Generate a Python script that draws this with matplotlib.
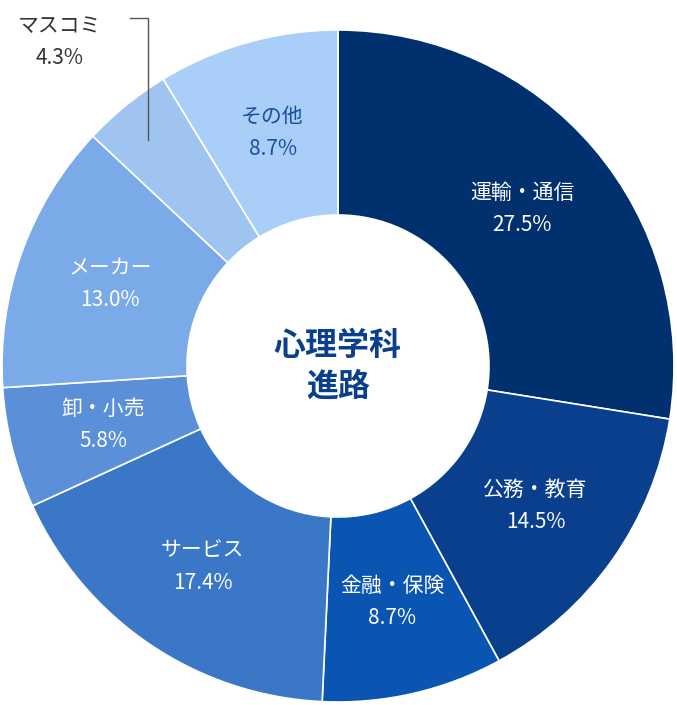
import matplotlib
matplotlib.use("Agg")
import matplotlib.pyplot as plt
import numpy as np

labels = ["運輸・通信", "公務・教育", "金融・保険", "サービス", "卸・小売", "メーカー", "マスコミ", "その他"]
values = [27.5, 14.5, 8.7, 17.4, 5.8, 13.0, 4.3, 8.7]
colors = ["#01306f", "#0a3f8e", "#0b55b2", "#3a77c7", "#5b90d9", "#7aabe8", "#9ec4ef", "#a9cff9"]
text_colors = ["white", "white", "white", "white", "white", "white", "#333333", "#1a4f9c"]
center_title = "心理学科\n進路"

plt.rcParams["font.family"] = "Noto Sans CJK JP"
fig = plt.figure(figsize=(6.77, 7.05), dpi=100)
R = 336
ax = fig.add_axes([(338 - R) / 677, (339 - R) / 705, 2 * R / 677, 2 * R / 705])
inner = 151 / R
wedges, _ = ax.pie(values, colors=colors, startangle=90, counterclock=False, radius=1,
                   wedgeprops=dict(width=1 - inner, edgecolor="white", linewidth=1.2))
ax.set_xlim(-1, 1); ax.set_ylim(-1, 1); ax.set_aspect("auto"); ax.axis("off")
total = sum(values)
cum = 0
for i, (lab, v) in enumerate(zip(labels, values)):
    mid = 90 - (cum + v / 2) / total * 360
    cum += v
    if lab == "マスコミ":
        ax.plot([(148 - 338) / R, (148 - 338) / R, (130 - 338) / R],
                [(366 - 140) / R, (366 - 18) / R, (366 - 18) / R],
                color="#555555", lw=1, clip_on=False)
        ax.text((60 - 338) / R, (366 - 42) / R, f"{lab}\n{v}%", ha="center", va="center",
                fontsize=15, color="#333333", linespacing=1.6, clip_on=False)
        continue
    r = 0.72
    x, y = r * np.cos(np.radians(mid)), r * np.sin(np.radians(mid))
    ax.text(x, y, f"{lab}\n{v}%", ha="center", va="center", fontsize=15,
            color=text_colors[i], linespacing=1.6)
ax.text(0, 0, center_title, ha="center", va="center", fontsize=23, fontweight="bold",
        color="#0a3f8e", linespacing=1.35)
fig.savefig("out.png", dpi=100)
